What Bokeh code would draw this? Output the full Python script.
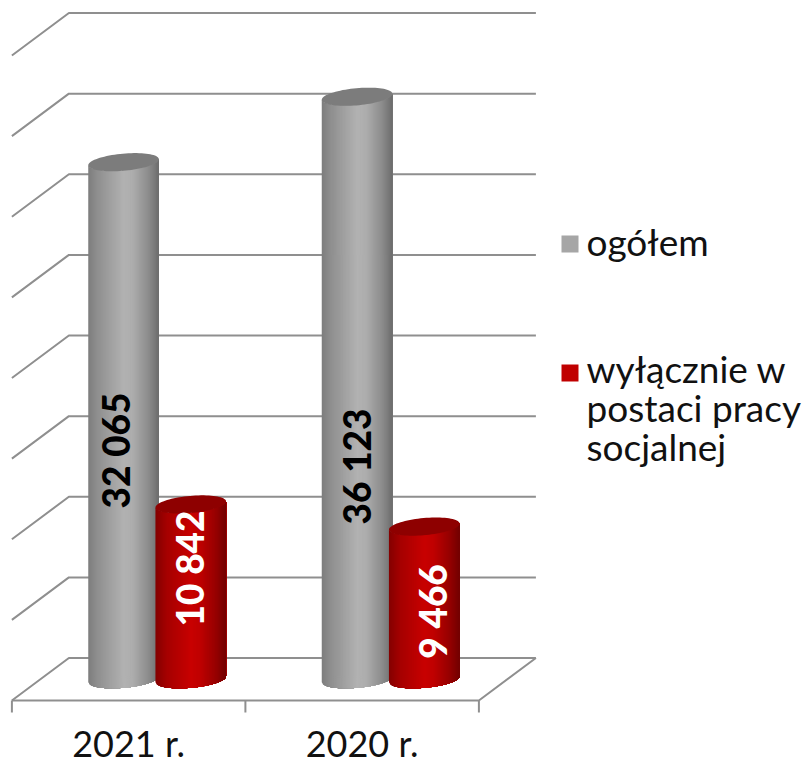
import numpy as np
from bokeh.core.properties import value
from bokeh.embed import file_html
from bokeh.models import Range1d
from bokeh.plotting import figure
from bokeh.resources import INLINE

categories = ["2021 r.", "2020 r."]
series_names = ["ogółem", "wyłącznie w\npostaci pracy\nsocjalnej"]
ogolem = [32065, 36123]
praca_socjalna = [10842, 9466]
value_labels_ogolem = ["32 065", "36 123"]
value_labels_praca = ["10 842", "9 466"]
grid_values = [0, 5000, 10000, 15000, 20000, 25000, 30000, 35000, 40000]

FONT = "Lato"
W, H = 802, 764
ORIGIN = 0
# page-pixel layout of the plot
X0, CAT_W = 11.4, 233.5
Y_ZERO, Y_MAX = 657.5, 12.5
DEPTH_X, DEPTH_Y = 57.0, 42.5
PX_X = 1 / CAT_W
PX_Y = 40000 / (Y_ZERO - Y_MAX)


def dx(px):
    return (px - X0) * PX_X


def dy(py):
    return (Y_ZERO - py) * PX_Y


p = figure(width=W, height=H, output_backend="svg", toolbar_location=None,
           x_range=Range1d(dx(ORIGIN), dx(ORIGIN + W)), y_range=Range1d(dy(ORIGIN + H), dy(ORIGIN)),
           min_border=0, border_fill_color=None, background_fill_color=None)
p.axis.visible = False
p.grid.visible = False
p.outline_line_color = None

GRID = "#8f8f8f"
dep_x = DEPTH_X * PX_X
dep_y = DEPTH_Y * PX_Y
n_cat = len(categories)
# side wall and back wall lines
for v in grid_values:
    p.line([0, dep_x, n_cat + dep_x], [v - dep_y, v, v], line_color=GRID, line_width=2)
# floor front + right edge
p.line([0, n_cat, n_cat + dep_x], [-dep_y, -dep_y, 0], line_color=GRID, line_width=2)
# ticks
for i in range(n_cat + 1):
    p.line([i, i], [-dep_y, -dep_y - 12 * PX_Y], line_color=GRID, line_width=2)


def hex2rgb(h):
    return np.array([int(h[i:i + 2], 16) for i in (1, 3, 5)], float)


def shade(stops, f):
    fs = [s[0] for s in stops]
    cs = np.array([hex2rgb(s[1]) for s in stops])
    c = [np.interp(f, fs, cs[:, k]) for k in range(3)]
    return "#%02x%02x%02x" % tuple(int(round(x)) for x in c)


GRAY_STOPS = [(0, "#7e7e7e"), (.12, "#8f8f8f"), (.5, "#b2b2b2"), (.62, "#adadad"), (.85, "#8c8c8c"), (1, "#6b6b6b")]
RED_STOPS = [(0, "#850000"), (.15, "#a50000"), (.5, "#c80000"), (.62, "#c00000"), (.85, "#960000"), (1, "#700000")]
R_PX, B_PX, S_PX = 35.3, 8.6, 3.0
BAR_OFF = 33.6


def cylinder(cat_i, side, val, stops, cap):
    cx_px = (cat_i + 0.5) * CAT_W + DEPTH_X / 2 + side * BAR_OFF
    cy0 = -dep_y / 2
    edges = np.linspace(-1, 1, 71)
    xs, ys, cols = [], [], []
    for a in edges[:-1]:
        # each strip runs to the cylinder's right side; later strips paint over it
        ts = np.linspace(a, 1, 40)
        x = (cx_px + ts * R_PX) * PX_X
        arc = (S_PX * ts - B_PX * np.sqrt(np.clip(1 - ts * ts, 0, 1))) * PX_Y
        xs.append(np.concatenate([x, x[::-1]]))
        ys.append(np.concatenate([cy0 + arc, (cy0 + val + arc)[::-1]]))
        cols.append(shade(stops, (a + 1) / 2))
    p.patches(xs, ys, fill_color=cols, line_color=None)
    t = np.linspace(0, 2 * np.pi, 80)
    ex = (cx_px + R_PX * np.cos(t)) * PX_X
    ey = cy0 + val + (S_PX * np.cos(t) + B_PX * np.sin(t)) * PX_Y
    p.patch(ex, ey, fill_color=cap, line_color=None)


for i in range(n_cat):
    cylinder(i, -1, ogolem[i], GRAY_STOPS, "#7c7c7c")
    cylinder(i, 1, praca_socjalna[i], RED_STOPS, "#8e0000")

LABEL_SIZE = "37px"
lx = [115, 356, 189, 432]
ly = [450, 466, 568, 611]
texts = value_labels_ogolem + value_labels_praca
cols = ["#000000", "#000000", "#ffffff", "#ffffff"]
p.text([dx(v) for v in lx], [dy(v) for v in ly], text=texts, angle=np.pi / 2,
       text_align="center", text_baseline="middle", text_color=cols,
       text_font=value("Lato Black"), text_font_size=LABEL_SIZE, text_font_style="bold")

# category labels
TEXT_DROP = 14
p.text([i + 0.5 for i in range(n_cat)], [dy(756 - TEXT_DROP)] * n_cat, text=categories,
       text_align="center", text_baseline="alphabetic", text_color="#111111",
       text_font=value(FONT), text_font_size="36px")

# legend
LEG_X = 561
swatch_top = [235, 364]
swatch_col = ["#a6a6a6", "#c00000"]
p.quad(left=[dx(LEG_X)] * 2, right=[dx(LEG_X + 17)] * 2,
       top=[dy(v) for v in swatch_top], bottom=[dy(v + 17) for v in swatch_top],
       fill_color=swatch_col, line_color=None)
legend_lines = [series_names[0]] + series_names[1].split("\n")
baselines = [255, 382, 421, 460]
p.text([dx(LEG_X + 25)] * 4, [dy(v - TEXT_DROP) for v in baselines], text=legend_lines,
       text_align="left", text_baseline="alphabetic", text_color="#111111",
       text_font=value(FONT), text_font_size="37px")

open("out.html", "w").write(file_html(p, INLINE))
